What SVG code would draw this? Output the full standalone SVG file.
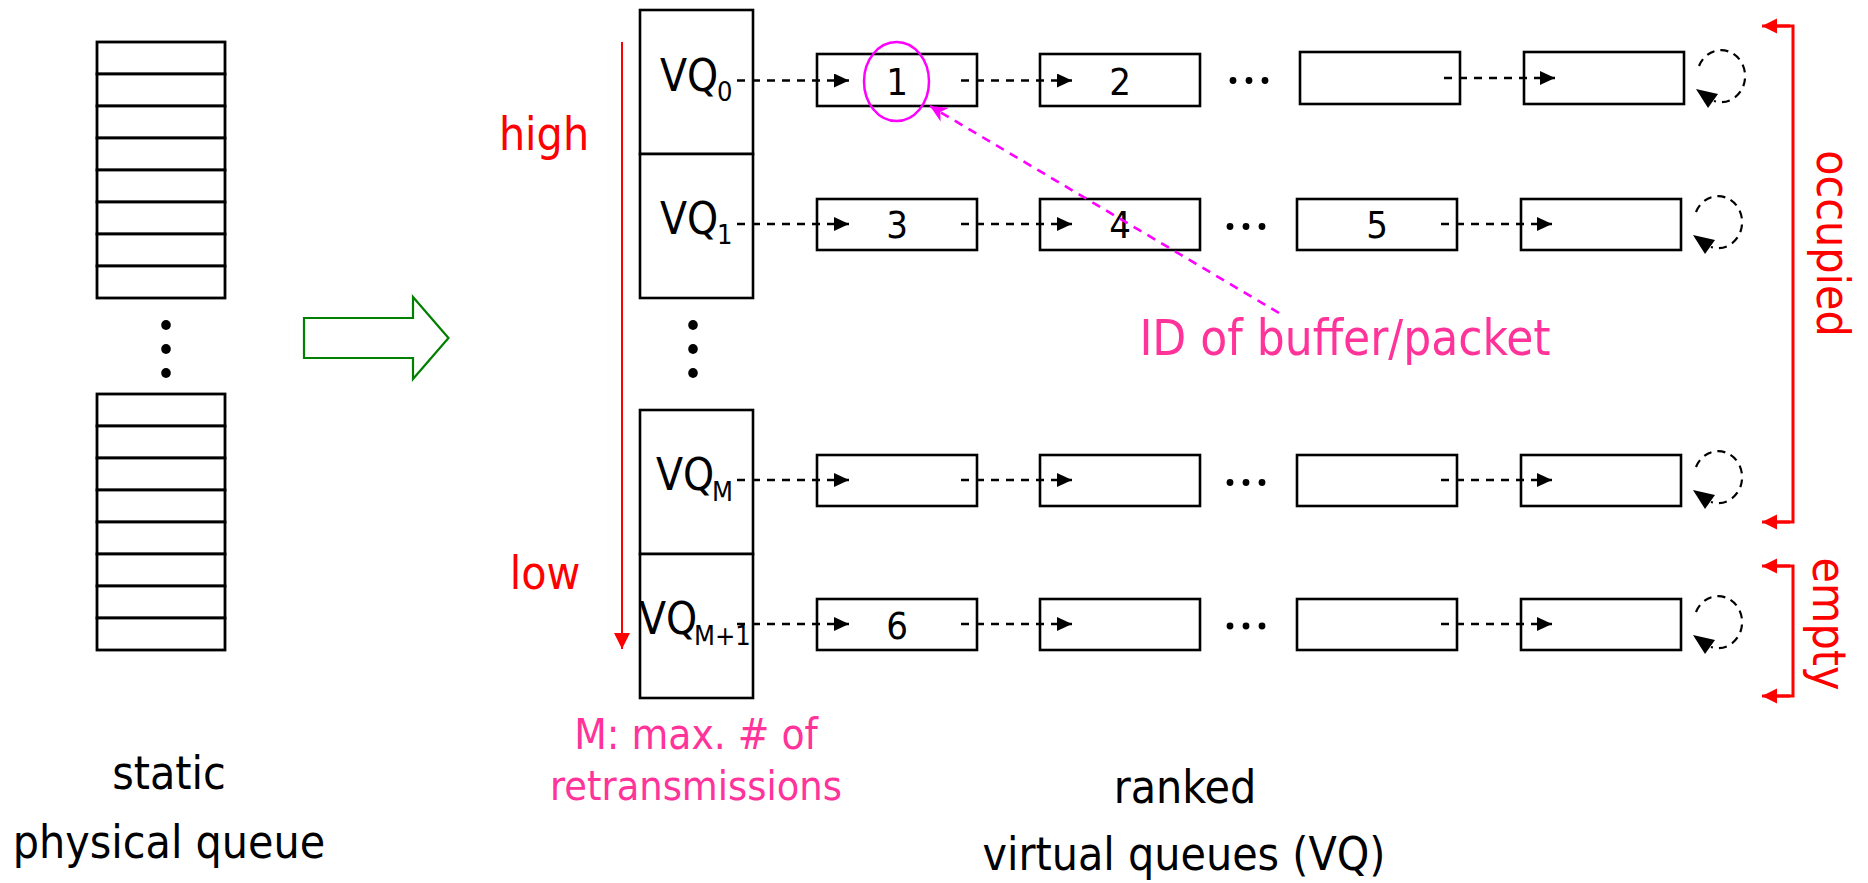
<svg xmlns="http://www.w3.org/2000/svg" width="1868" height="883" viewBox="0 0 1868 883">
<style>
text{font-family:'DejaVu Sans Condensed','DejaVu Sans',sans-serif;font-stretch:condensed}
.box{fill:#fff;stroke:#000;stroke-width:2.6}
.cell{fill:#fff;stroke:#000;stroke-width:2.8}
.lbl{font-size:46px;fill:#000;text-anchor:middle}
.vq{font-size:44px;fill:#000}
.sub{font-size:27px}
.num{font-size:38px;fill:#000;text-anchor:middle}
.pink{font-size:42px;fill:#ff3399;text-anchor:middle}
.red{font-size:46px;fill:#ff0000;text-anchor:middle}
.dash{fill:none;stroke:#000;stroke-width:2.6;stroke-dasharray:8 7;marker-end:url(#ah)}
.loop{fill:none;stroke:#000;stroke-width:2.2;stroke-dasharray:8 6}
.loophead{fill:#000}
.brk{fill:none;stroke:#ff0000;stroke-width:3}
</style>
<defs>
<marker id="ah" markerUnits="userSpaceOnUse" markerWidth="16" markerHeight="14" refX="15" refY="7" orient="auto"><path d="M0,0 L15,7 L0,14 z" fill="#000"/></marker>
<marker id="ahr" markerUnits="userSpaceOnUse" markerWidth="16" markerHeight="16" refX="15" refY="7.5" orient="auto"><path d="M0,0 L15,7.5 L0,15 z" fill="#ff0000"/></marker>
<marker id="ahrd" markerUnits="userSpaceOnUse" markerWidth="17" markerHeight="17" refX="16" refY="8" orient="auto"><path d="M0,0 L16,8 L0,16 z" fill="#ff0000"/></marker>
<marker id="ahm" markerUnits="userSpaceOnUse" markerWidth="18" markerHeight="16" refX="17" refY="8" orient="auto"><path d="M0,0 L17,8 L0,16 L5,8 z" fill="#ff00ff"/></marker>
</defs>

<g id="physical-queue-top">
<rect class="cell" x="97" y="42" width="128" height="32"/>
<rect class="cell" x="97" y="74" width="128" height="32"/>
<rect class="cell" x="97" y="106" width="128" height="32"/>
<rect class="cell" x="97" y="138" width="128" height="32"/>
<rect class="cell" x="97" y="170" width="128" height="32"/>
<rect class="cell" x="97" y="202" width="128" height="32"/>
<rect class="cell" x="97" y="234" width="128" height="32"/>
<rect class="cell" x="97" y="266" width="128" height="32"/>
</g>
<g id="physical-queue-dots">
<ellipse cx="166" cy="325" rx="4.8" ry="5"/>
<ellipse cx="166" cy="349" rx="4.8" ry="5"/>
<ellipse cx="166" cy="373" rx="4.8" ry="5"/>
</g>
<g id="physical-queue-bottom">
<rect class="cell" x="97" y="394" width="128" height="32"/>
<rect class="cell" x="97" y="426" width="128" height="32"/>
<rect class="cell" x="97" y="458" width="128" height="32"/>
<rect class="cell" x="97" y="490" width="128" height="32"/>
<rect class="cell" x="97" y="522" width="128" height="32"/>
<rect class="cell" x="97" y="554" width="128" height="32"/>
<rect class="cell" x="97" y="586" width="128" height="32"/>
<rect class="cell" x="97" y="618" width="128" height="32"/>
</g>
<g id="label-physical">
<text class="lbl" x="169" y="789">static</text>
<text class="lbl" x="169" y="858">physical queue</text>
</g>

<g id="transform-arrow">
<polygon points="304,318 413,318 413,297 448.5,338 413,379 413,358 304,358" fill="#fff" stroke="#008000" stroke-width="2.2"/>
</g>

<g id="priority">
<line x1="622" y1="42" x2="622" y2="649" stroke="#ff0000" stroke-width="2" marker-end="url(#ahrd)"/>
<text class="red" x="544" y="150">high</text>
<text class="red" x="545" y="589">low</text>
</g>

<g id="vq0">
<rect class="box" x="640" y="10" width="113" height="144"/>
<text class="vq"><tspan x="660" y="91">VQ</tspan><tspan class="sub" x="717" y="101">0</tspan></text>
</g>
<g id="vq1">
<rect class="box" x="640" y="154" width="113" height="144"/>
<text class="vq"><tspan x="660" y="234">VQ</tspan><tspan class="sub" x="717" y="244">1</tspan></text>
</g>
<g id="vq-dots">
<ellipse cx="693" cy="325" rx="4.8" ry="5"/>
<ellipse cx="693" cy="349" rx="4.8" ry="5"/>
<ellipse cx="693" cy="373" rx="4.8" ry="5"/>
</g>
<g id="vqM">
<rect class="box" x="640" y="410" width="113" height="144"/>
<text class="vq"><tspan x="656" y="490">VQ</tspan><tspan class="sub" x="712" y="501">M</tspan></text>
</g>
<g id="vqM1">
<rect class="box" x="640" y="554" width="113" height="144"/>
<text class="vq"><tspan x="639" y="634">VQ</tspan><tspan class="sub" x="694" y="645">M+1</tspan></text>
</g>

<g id="row0">
<rect class="box" x="817" y="54" width="160" height="52"/>
<text class="num" x="897" y="95">1</text>
<rect class="box" x="1040" y="54" width="160" height="52"/>
<text class="num" x="1120" y="95">2</text>
<circle cx="1233" cy="80.5" r="3.4"/><circle cx="1249" cy="80.5" r="3.4"/><circle cx="1265" cy="80.5" r="3.4"/>
<rect class="box" x="1300" y="52" width="160" height="52"/>
<rect class="box" x="1524" y="52" width="160" height="52"/>
</g>
<g id="row1">
<rect class="box" x="817" y="199" width="160" height="51"/>
<text class="num" x="897" y="238">3</text>
<rect class="box" x="1040" y="199" width="160" height="51"/>
<text class="num" x="1120" y="238">4</text>
<circle cx="1230" cy="226.5" r="3.4"/><circle cx="1246" cy="226.5" r="3.4"/><circle cx="1262" cy="226.5" r="3.4"/>
<rect class="box" x="1297" y="199" width="160" height="51"/>
<text class="num" x="1377" y="238">5</text>
<rect class="box" x="1521" y="199" width="160" height="51"/>
</g>
<g id="rowM">
<rect class="box" x="817" y="455" width="160" height="51"/>
<rect class="box" x="1040" y="455" width="160" height="51"/>
<circle cx="1230" cy="482.5" r="3.4"/><circle cx="1246" cy="482.5" r="3.4"/><circle cx="1262" cy="482.5" r="3.4"/>
<rect class="box" x="1297" y="455" width="160" height="51"/>
<rect class="box" x="1521" y="455" width="160" height="51"/>
</g>
<g id="rowM1">
<rect class="box" x="817" y="599" width="160" height="51"/>
<text class="num" x="897" y="639">6</text>
<rect class="box" x="1040" y="599" width="160" height="51"/>
<circle cx="1230" cy="626" r="3.4"/><circle cx="1246" cy="626" r="3.4"/><circle cx="1262" cy="626" r="3.4"/>
<rect class="box" x="1297" y="599" width="160" height="51"/>
<rect class="box" x="1521" y="599" width="160" height="51"/>
</g>

<g id="highlight">
<ellipse cx="896.5" cy="81.5" rx="32.5" ry="39.5" fill="none" stroke="#ff00ff" stroke-width="2.5"/>
<text class="pink" x="1345" y="355" style="font-size:49px">ID of buffer/packet</text>
</g>

<g id="occupied">
<path class="brk" d="M1776,26 H1793 V522 H1776"/>
<line x1="1790" y1="26" x2="1762" y2="26" stroke="#ff0000" stroke-width="3" marker-end="url(#ahr)"/>
<line x1="1790" y1="522" x2="1762" y2="522" stroke="#ff0000" stroke-width="3" marker-end="url(#ahr)"/>
<text class="red" transform="translate(1817,243.5) rotate(90)" x="0" y="0">occupied</text>
</g>
<g id="empty">
<path class="brk" d="M1776,566 H1793 V696 H1776"/>
<line x1="1790" y1="566" x2="1762" y2="566" stroke="#ff0000" stroke-width="3" marker-end="url(#ahr)"/>
<line x1="1790" y1="696" x2="1762" y2="696" stroke="#ff0000" stroke-width="3" marker-end="url(#ahr)"/>
<text class="red" transform="translate(1813,624) rotate(90)" x="0" y="0">empty</text>
</g>

<g id="label-retrans">
<text class="pink" x="696" y="749">M: max. # of</text>
<text class="pink" x="696" y="800" style="font-size:41px">retransmissions</text>
</g>
<g id="label-virtual">
<text class="lbl" x="1185" y="803">ranked</text>
<text class="lbl" x="1184" y="870">virtual queues (VQ)</text>
</g>

<g id="connectors">
<line class="dash" x1="737" y1="80.5" x2="849" y2="80.5"/>
<line class="dash" x1="961" y1="80.5" x2="1072" y2="80.5"/>
<line class="dash" x1="1444" y1="78" x2="1555" y2="78"/>
<line class="dash" x1="737" y1="224" x2="849" y2="224"/>
<line class="dash" x1="961" y1="224" x2="1072" y2="224"/>
<line class="dash" x1="1441" y1="224" x2="1552" y2="224"/>
<line class="dash" x1="737" y1="480" x2="849" y2="480"/>
<line class="dash" x1="961" y1="480" x2="1072" y2="480"/>
<line class="dash" x1="1441" y1="480" x2="1552" y2="480"/>
<line class="dash" x1="737" y1="624" x2="849" y2="624"/>
<line class="dash" x1="961" y1="624" x2="1072" y2="624"/>
<line class="dash" x1="1441" y1="624" x2="1552" y2="624"/>
<g id="loop0">
<path class="loop" d="M1699,66 A24 26 0 1 1 1714,101"/>
<polygon class="loophead" points="1696,89 1718,94 1708,108"/>
</g>
<g id="loop1" transform="translate(-3,146)">
<path class="loop" d="M1699,66 A24 26 0 1 1 1714,101"/>
<polygon class="loophead" points="1696,89 1718,94 1708,108"/>
</g>
<g id="loopM" transform="translate(-3,401)">
<path class="loop" d="M1699,66 A24 26 0 1 1 1714,101"/>
<polygon class="loophead" points="1696,89 1718,94 1708,108"/>
</g>
<g id="loopM1" transform="translate(-3,546)">
<path class="loop" d="M1699,66 A24 26 0 1 1 1714,101"/>
<polygon class="loophead" points="1696,89 1718,94 1708,108"/>
</g>
<line x1="1279" y1="313" x2="930" y2="106" stroke="#ff00ff" stroke-width="2.6" stroke-dasharray="9 7" marker-end="url(#ahm)"/>
</g>
</svg>
